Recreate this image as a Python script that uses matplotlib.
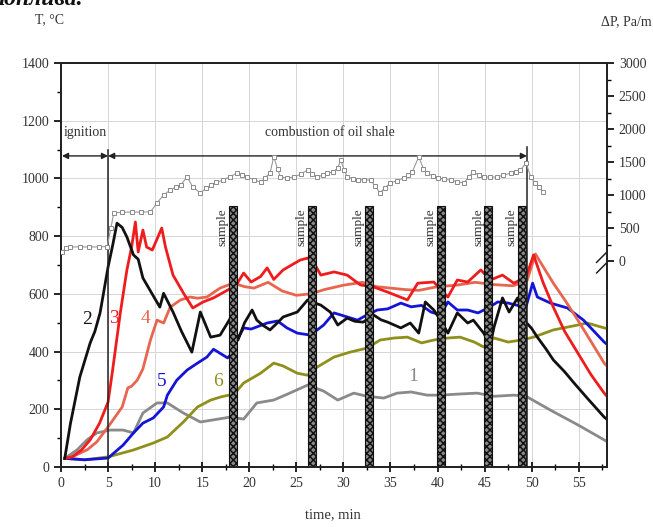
import matplotlib
matplotlib.use("Agg")
import matplotlib.pyplot as plt
from matplotlib.ticker import MultipleLocator, FixedLocator

plt.rcParams['font.family'] = ['Liberation Serif', 'DejaVu Serif']
plt.rcParams['hatch.linewidth'] = 1.1

# Temperature curves, (time [min], T [°C])
curve_1 = [(0.4, 30), (1.7, 59), (2.8, 95), (3.8, 118), (5.2, 128), (6.6, 128), (7.7, 118),
           (8.7, 187), (10.2, 222), (11.3, 222), (13.0, 187), (14.8, 156), (16.5, 165), (18.0, 173),
           (19.4, 166), (20.8, 222), (22.6, 232), (24.3, 256), (26.2, 284), (27.9, 263), (29.4, 232),
           (31.1, 256), (32.5, 245), (34.3, 239), (35.7, 256), (37.2, 260), (38.9, 249), (40.3, 249),
           (42.4, 253), (44.2, 256), (46.0, 245), (48.1, 249), (49.4, 245), (52.0, 197), (54.9, 146),
           (57.7, 94), (58.0, 88)]
curve_2 = [(0.4, 30), (1.0, 150), (2.0, 312), (3.1, 430), (3.6, 470), (4.15, 534), (5.0, 693),
           (5.5, 770), (5.95, 845), (6.5, 830), (7.0, 797), (7.7, 735), (8.2, 720), (8.7, 655),
           (9.5, 610), (10.5, 554), (10.9, 602), (11.9, 537), (12.8, 470), (13.9, 398), (14.8, 537),
           (15.9, 450), (16.9, 457), (18.0, 516), (18.5, 485), (18.8, 440), (19.5, 500), (20.3, 544),
           (20.8, 509), (21.5, 490), (22.2, 475), (23.0, 500), (23.6, 520), (25.1, 537), (26.2, 579),
           (26.8, 570), (27.6, 561), (28.6, 537), (29.4, 492), (30.4, 516), (31.2, 505), (32.1, 502),
           (33.2, 527), (34.0, 510), (34.7, 502), (36.1, 482), (37.1, 499), (38.0, 464), (38.7, 572),
           (39.6, 544), (40.3, 510), (41.1, 464), (42.1, 534), (43.2, 499), (43.8, 509), (44.9, 464),
           (45.6, 423), (46.0, 485), (46.9, 586), (47.6, 537), (48.5, 586), (49.2, 509), (50.0, 480),
           (50.6, 450), (51.5, 410), (52.3, 371), (53.5, 330), (54.5, 291), (56.0, 235), (57.7, 173),
           (58.0, 165)]
curve_3 = [(0.4, 30), (1.2, 35), (2.2, 60), (3.1, 94), (4.1, 152), (5.0, 225), (5.5, 340),
           (6.3, 534), (7.0, 683), (7.5, 762), (7.9, 849), (8.2, 745), (8.7, 821), (9.1, 762),
           (9.7, 752), (10.2, 790), (10.7, 828), (11.1, 762), (11.9, 665), (13.0, 603), (14.0, 551),
           (15.1, 572), (16.2, 586), (17.7, 613), (18.7, 635), (19.4, 672), (20.2, 641), (21.2, 660),
           (21.9, 690), (22.6, 650), (23.6, 683), (24.5, 700), (25.4, 717), (26.2, 724), (27.0, 700),
           (27.6, 665), (29.0, 676), (30.4, 665), (31.8, 631), (33.2, 624), (34.7, 606), (36.8, 579),
           (37.9, 637), (39.6, 641), (41.1, 589), (42.1, 648), (43.2, 641), (44.6, 683), (45.6, 648),
           (46.9, 665), (48.1, 637), (49.4, 658), (50.2, 735), (51.2, 640), (52.3, 554), (53.5, 470),
           (54.9, 395), (56.3, 320), (57.7, 256), (58.0, 245)]
curve_4 = [(0.4, 30), (1.5, 40), (2.8, 60), (3.8, 87), (5.0, 139), (6.5, 208), (7.1, 274),
           (7.5, 280), (8.1, 301), (8.7, 340), (9.5, 440), (10.2, 509), (10.9, 499), (11.6, 554),
           (12.7, 579), (13.7, 589), (14.5, 585), (15.5, 589), (16.9, 620), (18.3, 637), (19.5, 625),
           (20.5, 620), (22.0, 640), (23.5, 610), (25.0, 595), (26.5, 600), (28.0, 615), (30.0, 630),
           (32.0, 640), (33.5, 625), (35.0, 620), (36.5, 615), (38.0, 612), (40.0, 625), (42.0, 630),
           (44.0, 640), (46.0, 632), (48.0, 628), (49.5, 645), (50.4, 738), (51.3, 690), (52.3, 637),
           (53.6, 575), (54.9, 509), (56.3, 435), (57.7, 360), (58.0, 350)]
curve_5 = [(0.4, 30), (2.5, 25), (5.0, 31), (6.6, 76), (7.7, 118), (8.7, 152), (9.8, 170),
           (10.9, 208), (11.3, 249), (12.3, 301), (13.4, 336), (14.5, 360), (15.5, 381), (16.2, 408),
           (17.1, 390), (17.7, 378), (18.2, 395), (18.7, 440), (19.4, 482), (20.2, 478), (21.9, 499),
           (23.0, 506), (24.0, 482), (25.1, 464), (26.5, 457), (27.9, 492), (29.0, 534), (30.1, 523),
           (31.5, 509), (32.5, 527), (33.6, 544), (34.7, 548), (36.1, 568), (37.2, 555), (38.3, 560),
           (39.3, 537), (40.3, 527), (41.1, 572), (42.1, 544), (43.2, 544), (44.3, 534), (45.3, 550),
           (46.4, 572), (47.5, 568), (48.5, 560), (49.4, 555), (50.1, 637), (50.6, 589), (52.0, 568),
           (53.8, 551), (55.5, 509), (57.7, 433), (58.0, 425)]
curve_6 = [(0.4, 30), (2.5, 25), (5.0, 35), (7.7, 59), (9.8, 83), (11.3, 104), (13.0, 156),
           (14.5, 208), (15.9, 232), (17.0, 243), (18.4, 253), (19.4, 291), (21.2, 325), (22.6, 360),
           (23.6, 350), (25.1, 325), (26.2, 318), (27.2, 346), (29.0, 381), (30.7, 398), (32.5, 412),
           (33.9, 440), (35.4, 447), (36.8, 450), (38.3, 430), (39.6, 440), (41.1, 447), (42.4, 450),
           (43.9, 433), (44.9, 416), (46.0, 447), (47.5, 433), (48.9, 440), (50.2, 450), (52.3, 475),
           (54.9, 492), (55.9, 499), (57.7, 482), (58.0, 480)]

# Pressure drop, (time [min], dP [Pa/m])
pressure = [(0.1, 136), (0.5, 190), (1.0, 212), (2.0, 215), (3.0, 212), (4.0, 215), (4.9, 220),
            (5.3, 500), (5.6, 727), (6.5, 740), (7.5, 742), (8.5, 742), (9.5, 745), (10.2, 879),
            (10.9, 1000), (11.6, 1076), (12.2, 1120), (12.7, 1151), (13.4, 1273), (14.0, 1121),
            (14.8, 1030), (15.4, 1100), (15.9, 1151), (16.5, 1190), (17.2, 1227), (18.0, 1280),
            (18.7, 1333), (19.2, 1300), (19.8, 1273), (20.5, 1230), (21.2, 1197), (21.7, 1260),
            (22.2, 1333), (22.6, 1576), (23.0, 1400), (23.3, 1273), (24.0, 1260), (24.8, 1273),
            (25.5, 1320), (26.2, 1379), (26.7, 1320), (27.2, 1273), (27.8, 1300), (28.3, 1333),
            (28.9, 1350), (29.4, 1409), (29.7, 1530), (30.1, 1380), (30.4, 1273), (31.0, 1250),
            (31.5, 1227), (32.2, 1230), (32.9, 1227), (33.4, 1130), (33.9, 1030), (34.4, 1110),
            (35.0, 1182), (35.7, 1220), (36.4, 1258), (36.9, 1300), (37.3, 1348), (38.0, 1576),
            (38.5, 1400), (38.9, 1333), (39.5, 1290), (40.0, 1258), (40.7, 1240), (41.4, 1227),
            (42.1, 1200), (42.8, 1182), (43.3, 1270), (43.8, 1348), (44.4, 1300), (44.9, 1273),
            (45.6, 1273), (46.3, 1273), (47.0, 1300), (47.8, 1333), (48.3, 1350), (48.8, 1379),
            (49.4, 1485), (49.9, 1273), (50.4, 1182), (50.8, 1120), (51.2, 1045)]

# Sampling moments
sample_times = [18.3, 26.7, 32.7, 40.4, 45.4, 49.0]
sample_height = 905

# Stage boundaries
ignition_end = 5.0
combustion_end = 49.5
stage_arrow_T = 1078

curve_styles = [
    ("1", curve_1, "#8a8a8a", (37.4, 312)),
    ("6", curve_6, "#8f8f1c", (16.7, 295)),
    ("5", curve_5, "#1414d8", (10.7, 295)),
    ("4", curve_4, "#e8654f", (9.0, 516)),
    ("3", curve_3, "#ee1c1c", (5.6, 516)),
    ("2", curve_2, "#111111", (2.8, 510)),
]

fig = plt.figure(figsize=(6.53, 5.27), dpi=100)
ax = fig.add_axes([61 / 653, 60 / 527, 546 / 653, 404 / 527])

txt = "#333333"

for label, pts, color, (lx, ly) in curve_styles:
    xs = [p[0] for p in pts]
    ys = [p[1] for p in pts]
    ax.plot(xs, ys, color=color, lw=2.0, zorder=3)
    ax.text(lx, ly, label, color=color, fontsize=14, ha="center", va="center", zorder=6)

# sample bars
ax.bar(sample_times, [sample_height] * len(sample_times), width=0.85, color="#8a8a8a",
       edgecolor="#111111", hatch="xxxxx", lw=0.8, zorder=4)
for st in sample_times:
    ax.text(st - 1.1, 830, "sample", rotation=90, fontsize=9.5, color=txt,
            ha="center", va="center", zorder=6)

# stage boundaries and arrows
ax.plot([ignition_end, ignition_end], [0, 1100], color="#222222", lw=1.1, zorder=5)
ax.plot([combustion_end, combustion_end], [0, 1110], color="#222222", lw=1.1, zorder=5)
arrow = dict(arrowstyle="<|-|>", color="#222222", lw=1.0, mutation_scale=9,
             shrinkA=0, shrinkB=0)
ax.annotate("", xy=(0.1, stage_arrow_T), xytext=(ignition_end, stage_arrow_T), arrowprops=arrow)
ax.annotate("", xy=(ignition_end, stage_arrow_T), xytext=(combustion_end, stage_arrow_T),
            arrowprops=arrow)
ax.text(0.3, 1160, "ignition", fontsize=10, color=txt, ha="left", va="center")
ax.text(28.6, 1160, "combustion of oil shale", fontsize=10, color=txt, ha="center", va="center")

ax.set_xlim(0, 58)
ax.set_ylim(0, 1400)
ax.xaxis.set_major_locator(MultipleLocator(5))
ax.xaxis.set_minor_locator(MultipleLocator(2.5))
ax.yaxis.set_major_locator(MultipleLocator(200))
ax.yaxis.set_minor_locator(MultipleLocator(100))
ax.grid(True, which="major", color="#d6d6d6", lw=0.7)
ax.set_axisbelow(True)
ax.tick_params(axis="x", which="major", direction="inout", length=7, width=1.2,
               labelsize=10, labelcolor=txt, top=False)
ax.tick_params(axis="x", which="minor", direction="inout", length=4, width=1.0, top=False)
ax.tick_params(axis="y", which="major", direction="out", length=5, width=1.2,
               labelsize=10, labelcolor=txt, right=False)
ax.tick_params(axis="y", which="minor", direction="out", length=3, width=1.0, right=False)
for s in ax.spines.values():
    s.set_linewidth(1.3)
    s.set_color("#222222")

# pressure drop on secondary axis
ax2 = ax.twinx()
px = [p[0] for p in pressure]
py = [p[1] for p in pressure]
ax2.plot(px, py, color="#9a9a9a", lw=0.8, marker="s", ms=3.0, mfc="white",
         mec="#8a8a8a", mew=0.7, zorder=3)
ax2.set_ylim(-3120, 3000)
ax2.yaxis.set_major_locator(FixedLocator([0, 500, 1000, 1500, 2000, 2500, 3000]))
ax2.yaxis.set_minor_locator(FixedLocator([250, 750, 1250, 1750, 2250, 2750]))
ax2.tick_params(axis="y", which="major", direction="out", length=5, width=1.2,
                labelsize=10, labelcolor=txt)
ax2.tick_params(axis="y", which="minor", direction="out", length=3, width=1.0)
for s in ax2.spines.values():
    s.set_linewidth(1.3)
    s.set_color("#222222")

# axis break mark on the pressure scale
bt = ax2.get_yaxis_transform()
for off in (-70, 90):
    ax2.plot([0.981, 0.999], [off - 110, off + 40], color="#222222", lw=1.1,
             transform=bt, clip_on=False, zorder=7)

fig.text(35 / 653, 1 - 20 / 527, "T, °C", fontsize=10, color=txt, ha="left", va="center")
fig.text(652 / 653, 1 - 22 / 527, "ΔP, Pa/m", fontsize=10, color=txt, ha="right", va="center")
fig.text(333 / 653, 1 - 515 / 527, "time, min", fontsize=10.5, color=txt, ha="center", va="center")
fig.text(83 / 653, 1 - 5 / 527, "топлива.", fontsize=17, fontweight="bold", fontstyle="italic",
         color="#111111", ha="right", va="baseline")

fig.savefig("out.png", dpi=100)
